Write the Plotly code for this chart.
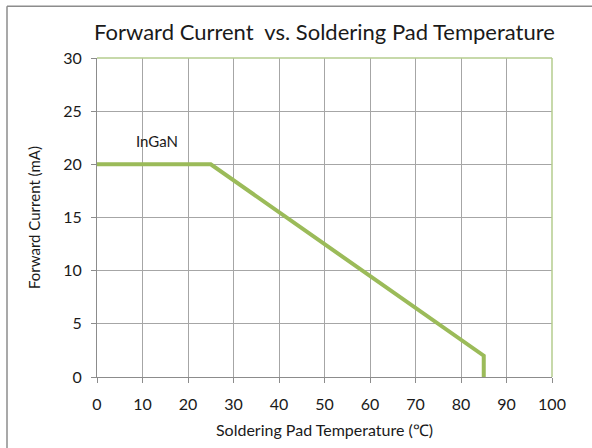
import plotly.graph_objects as go

temperature = [0, 25, 85, 85]
current = [20, 20, 2, 0]
x_ticks = list(range(0, 101, 10))
y_ticks = list(range(0, 31, 5))

W, H = 592, 448
L, R, T, B = 97, 40, 58, 69
pw, ph = W - L - R, H - T - B

fig = go.Figure()
fig.add_trace(go.Scatter(x=temperature, y=current, mode="lines",
                         line=dict(color="#9BBB59", width=4), showlegend=False))

font = "Lato, Open Sans, sans-serif"
fig.update_layout(
    width=W, height=H,
    margin=dict(l=L, r=R, t=T, b=B),
    paper_bgcolor="white", plot_bgcolor="white",
    title=dict(text="Forward Current  vs. Soldering Pad Temperature", x=(L + pw / 2) / W,
               xanchor="center", y=1 - 32 / H, yanchor="middle",
               font=dict(family=font, size=22, color="#1a1a1a")),
    xaxis=dict(range=[0, 100], tickvals=x_ticks, showgrid=True, gridcolor="#A6A6A6",
               gridwidth=1, zeroline=False, showline=True, linecolor="#8C8C8C",
               ticks="outside", ticklen=5, tickcolor="#8C8C8C", ticklabelstandoff=8,
               tickfont=dict(family=font, size=16, color="#1a1a1a"),
               title=dict(text="Soldering Pad Temperature (℃)",
                          font=dict(family=font, size=16, color="#1a1a1a"), standoff=12)),
    yaxis=dict(range=[0, 30], tickvals=y_ticks, showgrid=True, gridcolor="#A6A6A6",
               gridwidth=1, zeroline=False, showline=True, linecolor="#8C8C8C",
               ticks="outside", ticklen=5, tickcolor="#8C8C8C", ticklabelstandoff=6,
               tickfont=dict(family=font, size=16, color="#1a1a1a"),
               title=dict(text="Forward Current (mA)",
                          font=dict(family=font, size=15, color="#1a1a1a"), standoff=18)),
)
# green plot-area border top and right
fig.add_shape(type="line", xref="paper", yref="paper", x0=0, x1=1, y0=1, y1=1,
              line=dict(color="#B5CC8E", width=1.5))
fig.add_shape(type="line", xref="paper", yref="paper", x0=1, x1=1, y0=0, y1=1,
              line=dict(color="#B5CC8E", width=1.5))
# outer chart border (top and left)
px_x = lambda px: (px - L) / pw
px_y = lambda py: (H - B - py) / ph
fig.add_shape(type="line", xref="paper", yref="paper", x0=px_x(7), x1=px_x(W + 5),
              y0=px_y(6), y1=px_y(6), line=dict(color="#8C8C8C", width=1.5))
fig.add_shape(type="line", xref="paper", yref="paper", x0=px_x(7), x1=px_x(7),
              y0=px_y(6), y1=px_y(H + 5), line=dict(color="#8C8C8C", width=1.5))

fig.add_annotation(x=13.2, y=22.2, text="InGaN", showarrow=False,
                   font=dict(family=font, size=15, color="#1a1a1a"))

fig.write_html("out.html", config={"displayModeBar": False},
               post_script="document.body.style.margin='0';document.body.style.overflow='hidden';")
